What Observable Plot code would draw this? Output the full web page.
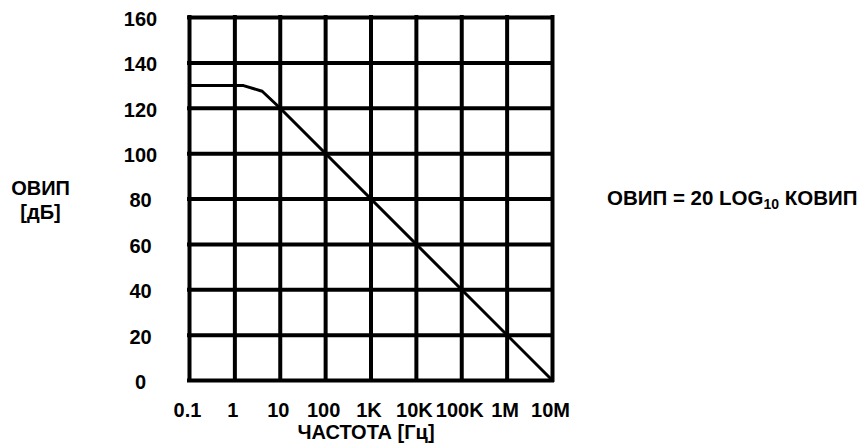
<!DOCTYPE html>
<html>
<head>
<meta charset="utf-8">
<script src="https://cdn.jsdelivr.net/npm/d3@7"></script>
<script src="https://cdn.jsdelivr.net/npm/@observablehq/plot@0.6"></script>
<style>
  html, body { margin: 0; padding: 0; background: #fff; }
</style>
</head>
<body>
<div id="chart"></div>
<script>
const xTicks = [0.1, 1, 10, 100, 1e3, 1e4, 1e5, 1e6, 1e7];
const xLabels = ["0.1", "1", "10", "100", "1K", "10K", "100K", "1M", "10M"];
const yTicks = [0, 20, 40, 60, 80, 100, 120, 140, 160];
const freq = [0.1, 1.55, 4, 10, 1e7];
const ovip = [130, 130, 127.5, 120, 0];
const yTitle = "ОВИП\n[дБ]";
const xTitle = "ЧАСТОТА [Гц]";

const font = "'Liberation Sans', Arial, Helvetica, sans-serif";
const data = freq.map((f, i) => ({ f, v: ovip[i] }));

const chart = Plot.plot({
  width: 861,
  height: 444,
  marginLeft: 189,
  marginRight: 309,
  marginTop: 17,
  marginBottom: 64,
  x: { type: "log", domain: [0.1, 1e7] },
  y: { domain: [0, 160] },
  style: { fontFamily: font, fontWeight: "bold", fontSize: "20px", color: "#000", background: "#fff" },
  marks: [
    Plot.ruleX(xTicks, { stroke: "#000", strokeWidth: 4, strokeLinecap: "square" }),
    Plot.ruleY(yTicks, { stroke: "#000", strokeWidth: 4, strokeLinecap: "square" }),
    Plot.line(data, { x: "f", y: "v", stroke: "#000", strokeWidth: 3 }),
    Plot.axisX({ ticks: xTicks, tickFormat: d => xLabels[xTicks.indexOf(d)], tickSize: 0, tickPadding: 22, dx: -2, label: null, fontSize: 20, fontWeight: "bold" }),
    Plot.axisY({ ticks: yTicks, tickSize: 0, tickPadding: 49, textAnchor: "middle", label: null, fontSize: 20, fontWeight: "bold", dy: 2 }),
    Plot.text([yTitle], { text: d => d, frameAnchor: "left", dx: -149, textAnchor: "middle", lineHeight: 1.2, fontSize: 20, fontWeight: "bold" }),
    Plot.text([xTitle], { text: d => d, frameAnchor: "bottom", dx: -5, dy: 58, textAnchor: "middle", fontSize: 20, fontWeight: "bold" })
  ]
});

// Formula annotation with a real subscript
const svg = d3.select(chart);
const t = svg.append("text")
  .attr("x", 607).attr("y", 204.5)
  .attr("text-anchor", "start")
  .attr("font-family", font).attr("font-weight", "bold").attr("font-size", 20.5).attr("fill", "#000");
t.append("tspan").text("ОВИП = 20 LOG");
t.append("tspan").attr("font-size", 14).attr("dy", 4).text("10");
t.append("tspan").attr("dy", -4).text(" КОВИП");

document.getElementById("chart").appendChild(chart);
</script>
</body>
</html>
